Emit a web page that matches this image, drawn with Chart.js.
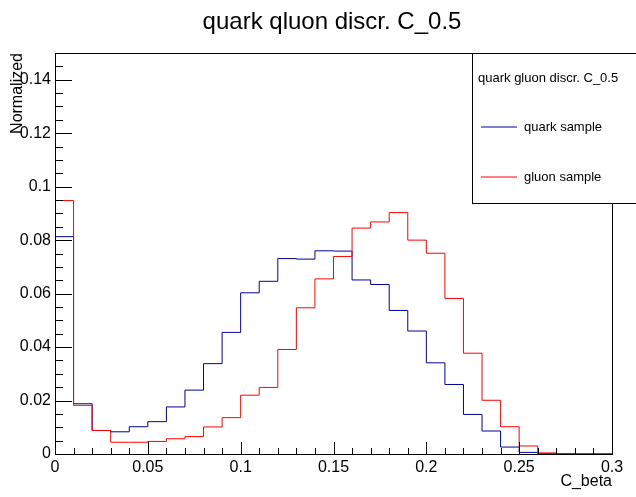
<!DOCTYPE html>
<html>
<head>
<meta charset="utf-8">
<script src="https://cdn.jsdelivr.net/npm/chart.js@4/dist/chart.umd.min.js"></script>
<style>
  body { margin: 0; background: #fff; }
  #wrap { width: 636px; height: 497px; position: relative; }
</style>
</head>
<body>
<div id="wrap"><canvas id="myChart"></canvas></div>
<script>
// Histogram bins (low edges, width 0.01)
const binLowEdges = [0, 0.01, 0.02, 0.03, 0.04, 0.05, 0.06, 0.07, 0.08, 0.09,
  0.1, 0.11, 0.12, 0.13, 0.14, 0.15, 0.16, 0.17, 0.18, 0.19,
  0.2, 0.21, 0.22, 0.23, 0.24, 0.25, 0.26, 0.27, 0.28, 0.29];
const histEnd = 0.3;

const quarkValues = [0.0813, 0.0188, 0.0088, 0.0083, 0.0102, 0.0121, 0.0176, 0.0239, 0.0338, 0.0455,
  0.0603, 0.0646, 0.0731, 0.0729, 0.0760, 0.0759, 0.0651, 0.0634, 0.0537, 0.0460,
  0.0341, 0.0260, 0.0148, 0.0086, 0.0026, 0.0006, 0.0001, 0.0001, 0, 0];
const gluonValues = [0.0948, 0.0182, 0.0088, 0.0044, 0.0044, 0.0047, 0.0057, 0.0065, 0.0101, 0.0136,
  0.0220, 0.0249, 0.0391, 0.0547, 0.0655, 0.0739, 0.0845, 0.0868, 0.0903, 0.0800,
  0.0751, 0.0582, 0.0377, 0.0201, 0.0102, 0.0030, 0.0004, 0.0001, 0.0001, 0.0001];

const xTicks = [0, 0.05, 0.1, 0.15, 0.2, 0.25, 0.3];
const xTickLabels = ["0", "0.05", "0.1", "0.15", "0.2", "0.25", "0.3"];
const yTicks = [0, 0.02, 0.04, 0.06, 0.08, 0.1, 0.12, 0.14];
const yTickLabels = ["0", "0.02", "0.04", "0.06", "0.08", "0.1", "0.12", "0.14"];

const titleText = "quark qluon discr. C_0.5";
const legendTitle = "quark gluon discr. C_0.5";
const seriesNames = ["quark sample", "gluon sample"];
const seriesColors = ["#000099", "#ff0000"];

// step points: one per low edge, plus closing point at the last edge
function toSteps(values) {
  const pts = binLowEdges.map((x, i) => ({ x: x, y: values[i] }));
  pts.push({ x: histEnd, y: values[values.length - 1] });
  return pts;
}

// frame, inner tick marks and the legend box (ROOT style)
const rootFrame = {
  id: "rootFrame",
  afterLayout(chart) {
    // the canvas title is centred on the pad, slightly right of the canvas middle
    const t = chart.titleBlock;
    t.left = 28;
    t.right = 636;
    t.width = 608;
  },
  afterDraw(chart) {
    const ctx = chart.ctx;
    const a = chart.chartArea;
    const xs = chart.scales.x;
    const ys = chart.scales.y;
    const c = (v) => Math.round(v) + 0.5;
    ctx.save();
    ctx.strokeStyle = "#000";
    ctx.lineWidth = 1;

    ctx.beginPath();
    // y ticks, minor every 0.005
    for (let k = 0; k <= 30; k++) {
      const py = c(ys.getPixelForValue(k * 0.005));
      const len = k % 4 === 0 ? 17 : 8;
      ctx.moveTo(a.left, py);
      ctx.lineTo(a.left + len, py);
    }
    // x ticks, minor every 0.01
    for (let k = 0; k <= 30; k++) {
      const px = c(xs.getPixelForValue(k * 0.01));
      const len = k % 5 === 0 ? 12 : 6;
      ctx.moveTo(px, a.bottom);
      ctx.lineTo(px, a.bottom - len);
    }
    ctx.stroke();

    ctx.strokeRect(c(a.left), c(a.top), Math.round(a.right - a.left), Math.round(a.bottom - a.top));

    // legend
    const lx = 472.5, ly = c(a.top);
    ctx.fillStyle = "#fff";
    ctx.fillRect(lx, ly, 200, 150);
    ctx.strokeRect(lx, ly, 200, 150);
    ctx.fillStyle = "#000";
    ctx.font = "13px 'Liberation Sans', Arial, sans-serif";
    ctx.textBaseline = "middle";
    ctx.textAlign = "left";
    ctx.fillText(legendTitle, 478, 78);
    seriesNames.forEach((name, i) => {
      const yy = 127 + i * 50;
      ctx.strokeStyle = seriesColors[i];
      ctx.beginPath();
      ctx.moveTo(481, yy);
      ctx.lineTo(517, yy);
      ctx.stroke();
      ctx.fillStyle = "#000";
      ctx.fillText(name, 524, yy);
    });
    ctx.restore();
  }
};

Chart.defaults.font.family = "'Liberation Sans', Arial, sans-serif";
Chart.defaults.color = "#000";

const ctx = document.getElementById("myChart").getContext("2d");
const myChart = new Chart(ctx, {
  type: "line",
  data: {
    datasets: [
      {
        label: seriesNames[0],
        data: toSteps(quarkValues),
        borderColor: seriesColors[0],
        borderWidth: 1,
        stepped: "before",
        pointRadius: 0,
        fill: false,
        order: 1,
      },
      {
        label: seriesNames[1],
        data: toSteps(gluonValues),
        borderColor: seriesColors[1],
        borderWidth: 1,
        stepped: "before",
        pointRadius: 0,
        fill: false,
        order: 0,
      },
    ],
  },
  options: {
    responsive: true,
    maintainAspectRatio: false,
    animation: false,
    layout: { padding: { left: 0, right: 24, top: 0, bottom: 0 } },
    plugins: {
      legend: { display: false },
      tooltip: { enabled: false },
      title: {
        display: true,
        text: titleText,
        color: "#000",
        font: { size: 24, weight: "normal", lineHeight: 1 },
        padding: { top: 10, bottom: 19 },
      },
    },
    scales: {
      x: {
        type: "linear",
        min: 0,
        max: 0.3,
        grid: { display: false, drawTicks: false },
        border: { display: false },
        afterBuildTicks: (s) => { s.ticks = xTicks.map((v) => ({ value: v })); },
        afterFit: (s) => { s.height = 43; },
        ticks: {
          autoSkip: false,
          maxRotation: 0,
          padding: 4,
          font: { size: 16 },
          callback: (v, i) => xTickLabels[i],
        },
        title: {
          display: true,
          text: "C_beta",
          align: "end",
          font: { size: 16 },
          padding: { top: 0, bottom: 6 },
        },
      },
      y: {
        min: 0,
        max: 0.15,
        grid: { display: false, drawTicks: false },
        border: { display: false },
        afterBuildTicks: (s) => { s.ticks = yTicks.map((v) => ({ value: v })); },
        afterFit: (s) => { s.width = 55; },
        ticks: {
          autoSkip: false,
          padding: 4,
          font: { size: 16 },
          callback: (v, i) => yTickLabels[i],
        },
        title: {
          display: true,
          text: "Normalized",
          align: "end",
          font: { size: 16 },
          padding: { top: 8, bottom: 0 },
        },
      },
    },
  },
  plugins: [rootFrame],
});
</script>
</body>
</html>
